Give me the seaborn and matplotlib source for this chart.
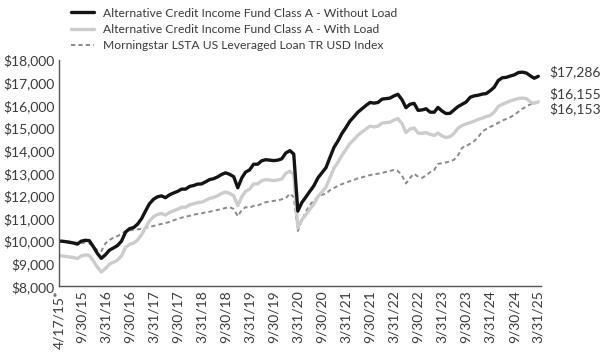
import pandas as pd
import matplotlib.pyplot as plt
from matplotlib.ticker import FuncFormatter
import seaborn as sns

# Growth of $10,000 - monthly values (first point is inception 4/17/15)
start_date = '2015-04-17'

without_load = [10000,
    10000, 9980, 9950, 9920, 9870, 10000, 10040, 10020, 9750, 9450,
    9240, 9400, 9600, 9700, 9800, 10000, 10400, 10550, 10600, 10750,
    11000, 11350, 11650, 11850, 11960, 12000, 11920, 12050, 12130, 12200,
    12300, 12300, 12420, 12460, 12520, 12530, 12620, 12720, 12760, 12840,
    12950, 13020, 12950, 12850, 12360, 12800, 13050, 13150, 13400, 13400,
    13550, 13600, 13580, 13560, 13580, 13640, 13900, 14000, 13850, 11330,
    11700, 11950, 12200, 12450, 12800, 13020, 13250, 13700, 14150, 14440,
    14750, 15020, 15300, 15500, 15700, 15850, 16000, 16130, 16100, 16130,
    16280, 16300, 16320, 16420, 16490, 16250, 15900, 16050, 16090, 15780,
    15800, 15850, 15700, 15700, 15910, 15750, 15640, 15650, 15800, 15950,
    16050, 16150, 16360, 16420, 16450, 16500, 16520, 16650, 16800, 17100,
    17220, 17240, 17300, 17350, 17450, 17470, 17430, 17300, 17200, 17286]

with_load = [9350,
    9350, 9330, 9300, 9280, 9230, 9350, 9390, 9370, 9120, 8840,
    8640, 8790, 8980, 9070, 9160, 9350, 9720, 9860, 9910, 10050,
    10290, 10610, 10890, 11080, 11180, 11220, 11150, 11270, 11340, 11410,
    11500, 11500, 11610, 11650, 11710, 11720, 11800, 11890, 11930, 12010,
    12110, 12170, 12110, 12010, 11560, 11970, 12200, 12300, 12530, 12530,
    12670, 12720, 12700, 12680, 12700, 12750, 13000, 13090, 12950, 10590,
    10940, 11170, 11410, 11640, 11970, 12170, 12390, 12810, 13230, 13500,
    13790, 14040, 14310, 14490, 14680, 14820, 14960, 15080, 15050, 15080,
    15220, 15240, 15260, 15350, 15420, 15190, 14800, 14950, 15000, 14780,
    14760, 14800, 14720, 14670, 14780, 14650, 14580, 14620, 14760, 15000,
    15110, 15180, 15240, 15300, 15380, 15440, 15500, 15560, 15700, 15950,
    16050, 16120, 16200, 16250, 16310, 16320, 16300, 16150, 16090, 16155]

index_vals = [10000,
    10000, 10000, 9980, 9960, 9920, 9900, 9950, 9900, 9750, 9600,
    9560, 9900, 10050, 10150, 10220, 10330, 10440, 10470, 10500, 10520,
    10550, 10590, 10630, 10670, 10720, 10760, 10800, 10850, 10920, 10980,
    11040, 11080, 11120, 11170, 11200, 11230, 11270, 11300, 11340, 11380,
    11420, 11470, 11500, 11420, 11100, 11380, 11500, 11480, 11560, 11580,
    11650, 11720, 11750, 11780, 11800, 11850, 11900, 12100, 11950, 10450,
    10900, 11300, 11600, 11800, 11950, 12050, 12100, 12250, 12350, 12450,
    12520, 12580, 12650, 12700, 12780, 12820, 12870, 12920, 12950, 12980,
    13020, 13060, 13100, 13150, 13100, 12900, 12550, 12800, 12980, 12850,
    12800, 12900, 13050, 13150, 13420, 13440, 13480, 13520, 13600, 13800,
    14130, 14200, 14310, 14420, 14600, 14850, 14950, 15050, 15130, 15230,
    15330, 15400, 15480, 15580, 15720, 15850, 15950, 16050, 16130, 16153]

names = ['Alternative Credit Income Fund Class A - Without Load',
         'Alternative Credit Income Fund Class A - With Load',
         'Morningstar LSTA US Leveraged Loan TR USD Index']
end_labels = ['$17,286', '$16,155', '$16,153']
tick_labels = ['4/17/15*', '9/30/15', '3/31/16', '9/30/16', '3/31/17', '9/30/17',
               '3/31/18', '9/30/18', '3/31/19', '9/30/19', '3/31/20', '9/30/20',
               '3/31/21', '9/30/21', '3/31/22', '9/30/22', '3/31/23', '9/30/23',
               '3/31/24', '9/30/24', '3/31/25']

dates = [pd.Timestamp(start_date)] + list(pd.date_range('2015-04-30', periods=120, freq='ME'))
df = pd.DataFrame({'date': dates, names[0]: without_load, names[1]: with_load, names[2]: index_vals})

sns.set_style('white')
plt.rcParams['font.family'] = ['Lato', 'DejaVu Sans']

fig = plt.figure(figsize=(6, 3.58), dpi=100)
ax = fig.add_axes([0.098, 0.200, 0.804, 0.632])

sns.lineplot(data=df, x='date', y=names[2], ax=ax, color='#8a8a8a', linewidth=1.4,
             linestyle=(0, (2.2, 1.6)), label=names[2])
sns.lineplot(data=df, x='date', y=names[1], ax=ax, color='#cccccc', linewidth=2.4, label=names[1])
sns.lineplot(data=df, x='date', y=names[0], ax=ax, color='#141414', linewidth=2.4, label=names[0])

ax.set_ylim(8000, 18000)
ax.set_yticks(range(8000, 18001, 1000))
ax.yaxis.set_major_formatter(FuncFormatter(lambda v, p: f'${v:,.0f}'))
ax.set_xlim(pd.Timestamp('2015-04-12'), pd.Timestamp('2025-04-22'))
tick_dates = [pd.to_datetime(s.rstrip('*'), format='%m/%d/%y') for s in tick_labels]
ax.set_xticks(tick_dates)
ax.set_xticklabels(tick_labels, rotation=90)
ax.set_xlabel('')
ax.set_ylabel('')
ax.tick_params(axis='both', length=0, labelsize=10, labelcolor='#3a3a3a', pad=3)

for s in ['top', 'right']:
    ax.spines[s].set_visible(False)
for s in ['left', 'bottom']:
    ax.spines[s].set_color('#555555')
    ax.spines[s].set_linewidth(1.0)

# end-value labels on the right
last = df['date'].iloc[-1]
offsets = [3, 6, -5]
for name, lab, dy in zip(names, end_labels, offsets):
    ax.annotate(lab, xy=(last, df[name].iloc[-1]), xytext=(8, dy), textcoords='offset points',
                va='center', ha='left', fontsize=10, color='#3a3a3a', annotation_clip=False)

handles, labels = ax.get_legend_handles_labels()
order = [2, 1, 0]
ax.legend([handles[i] for i in order], [labels[i] for i in order], loc='upper left',
          bbox_to_anchor=(0.11, 0.992), bbox_transform=fig.transFigure, frameon=False,
          fontsize=8.7, handlelength=1.9, handletextpad=0.8, labelspacing=0.42,
          labelcolor='#3a3a3a', borderaxespad=0)

fig.savefig('out.png', dpi=100)
plt.close()
